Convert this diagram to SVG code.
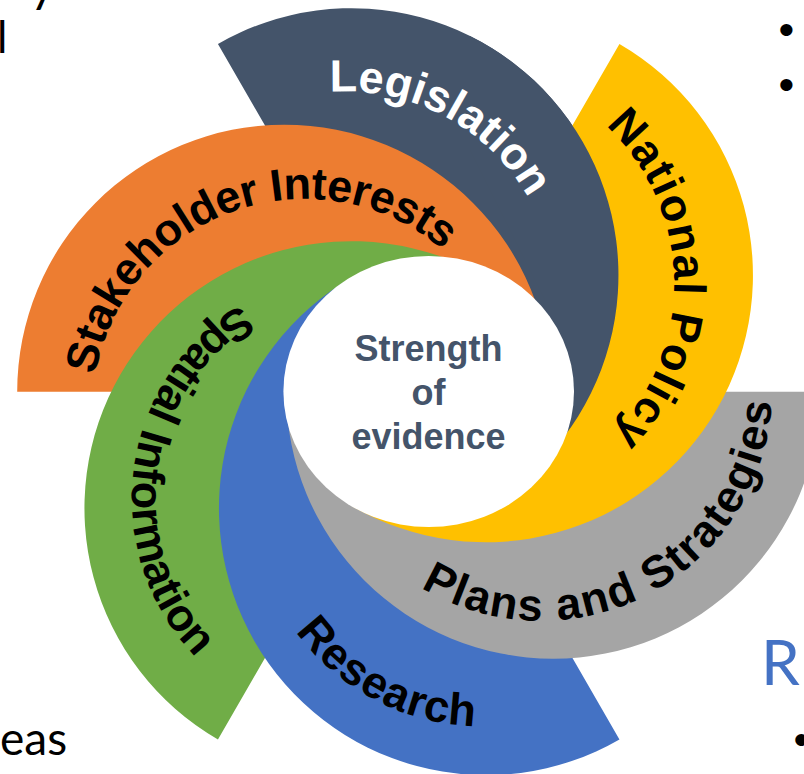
<svg xmlns="http://www.w3.org/2000/svg" width="804" height="774" viewBox="0 0 804 774">
  <style>
    .lbl { font-family: "Liberation Sans", Arial, sans-serif; font-weight: bold; font-size: 45px; fill: #000000; }
    .lbl-light { fill: #FFFFFF; }
    .hub { font-family: "Liberation Sans", Arial, sans-serif; font-weight: bold; font-size: 36px; fill: #44546A; text-anchor: middle; }
    .slide { font-family: Lato, "Open Sans", sans-serif; fill: #000000; }
    .bullet { font-family: "Liberation Sans", Arial, sans-serif; font-size: 45px; fill: #000000; }
  </style>
  <defs>
    <!-- baselines for the curved labels -->
    <path id="tp-stakeholder" d="M95.24,375.01 A213,213 0 0 1 514.76,375.01"/>
    <path id="tp-legislation" d="M329.81,91.92 A212,212 0 0 1 463.15,479.16"/>
    <path id="tp-national" d="M605.41,125.43 A216,216 0 0 1 409.51,493.86"/>
    <path id="tp-plans" d="M420.78,587.32 A231.5,231.5 0 0 0 743.57,277.77"/>
    <path id="tp-research" d="M295.7,631.4 A230,230 0 0 0 653.64,649.08"/>
    <path id="tp-spatial" d="M240.33,304.41 A228,228 0 0 0 366.17,726.51"/>
    <!-- area where the Legislation arc sits above National Policy -->
    <clipPath id="clip-legislation-top">
      <polygon points="470,0 804,0 804,774 545,774 545,300 470,150"/>
    </clipPath>
  </defs>

  <!-- slide text around the graphic -->
  <g id="slide-text">
    <text class="slide" x="30" y="2" font-size="48">y</text>
    <text class="slide" x="-3" y="53" font-size="44">l</text>
    <text class="slide" x="0" y="755" font-size="46">eas</text>
    <text class="bullet" x="778.6" y="45">•</text>
    <text class="bullet" x="778.6" y="100">•</text>
    <text class="slide" x="761" y="685" font-size="62" style="fill:#4472C4">R</text>
    <text class="bullet" x="793.6" y="755">•</text>
  </g>

  <g id="node-legislation">
    <path fill="#44546A" d="M217.95,43.99 A267,267 0 0 1 484.95,506.45 L411.45,379.14 A120,120 0 0 0 291.45,171.30 Z"/>
    <text class="lbl lbl-light"><textPath href="#tp-legislation">Legislation</textPath></text>
  </g>
  <g id="node-stakeholder">
    <path fill="#ED7D31" d="M17.2,391.7 A267,267 0 0 1 551.2,391.7 L404.2,391.7 A120,120 0 0 0 164.2,391.7 Z"/>
    <text class="lbl" letter-spacing="-0.5"><textPath href="#tp-stakeholder">Stakeholder Interests</textPath></text>
  </g>
  <g id="node-spatial">
    <path fill="#70AD47" d="M217.95,739.41 A267,267 0 0 1 484.95,276.95 L411.45,404.26 A120,120 0 0 0 291.45,612.10 Z"/>
    <text class="lbl"><textPath href="#tp-spatial">Spatial Information</textPath></text>
  </g>
  <g id="node-research">
    <path fill="#4472C4" d="M619.45,739.41 A267,267 0 0 1 352.45,276.95 L425.95,404.26 A120,120 0 0 0 545.95,612.10 Z"/>
    <text class="lbl" letter-spacing="1"><textPath href="#tp-research">Research</textPath></text>
  </g>
  <g id="node-plans">
    <path fill="#A5A5A5" d="M820.2,391.7 A267,267 0 0 1 286.2,391.7 L433.2,391.7 A120,120 0 0 0 673.2,391.7 Z"/>
    <text class="lbl" font-size="46" letter-spacing="1.8"><textPath href="#tp-plans">Plans and Strategies</textPath></text>
  </g>
  <g id="node-national">
    <path fill="#FFC000" d="M619.45,43.99 A267,267 0 0 1 352.45,506.45 L425.95,379.14 A120,120 0 0 0 545.95,171.30 Z"/>
    <text class="lbl" letter-spacing="1.5"><textPath href="#tp-national">National Policy</textPath></text>
  </g>
  <!-- the spiral closes: Legislation overlaps the start of National Policy -->
  <use href="#node-legislation" clip-path="url(#clip-legislation-top)"/>

  <g id="node-hub">
    <ellipse cx="428.7" cy="391.5" rx="145.3" ry="135.5" fill="#FFFFFF"/>
    <text class="hub" x="428.5" y="360.7">Strength</text>
    <text class="hub" x="428.5" y="405">of</text>
    <text class="hub" x="428.5" y="449.3">evidence</text>
  </g>
</svg>
